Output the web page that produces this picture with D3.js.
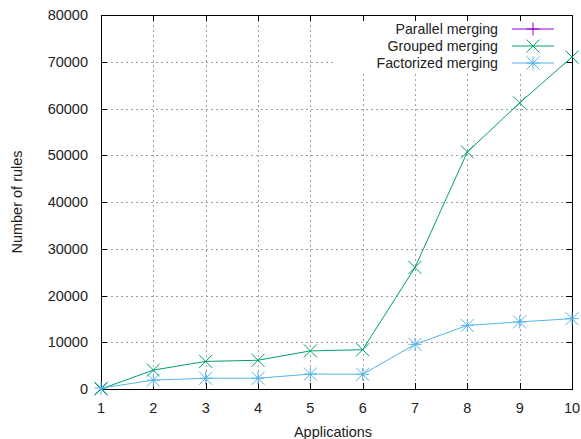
<!DOCTYPE html>
<html>
<head>
<meta charset="utf-8">
<script src="https://cdn.jsdelivr.net/npm/d3@7"></script>
<style>
  body { margin: 0; background: #fff; }
  svg { display: block; }
</style>
</head>
<body>
<script>
// data
const apps = [1, 2, 3, 4, 5, 6, 7, 8, 9, 10];
const parallel = []; // listed in the key only, no points visible
const grouped = [0, 4050, 5900, 6150, 8150, 8400, 26000, 50700, 61200, 71000];
const factorized = [200, 1900, 2300, 2300, 3200, 3150, 9550, 13600, 14350, 15050];
const yTicks = [0, 10000, 20000, 30000, 40000, 50000, 60000, 70000, 80000];
const seriesNames = ["Parallel merging", "Grouped merging", "Factorized merging"];

const width = 581, height = 439;
const m = { left: 101, right: 572, top: 15, bottom: 389 };

const x = d3.scaleLinear().domain([1, 10]).range([m.left, m.right]);
const y = d3.scaleLinear().domain([0, 80000]).range([m.bottom, m.top]);

const svg = d3.create("svg")
  .attr("width", width)
  .attr("height", height)
  .attr("font-family", "'Liberation Sans', Arial, sans-serif");

// key box area (gnuplot blanks the grid under it)
const key = { x0: 333, x1: m.right, y0: m.top, y1: 74 };

// grid
const grid = svg.append("g")
  .attr("stroke", "#a0a0a0")
  .attr("stroke-width", 1)
  .attr("stroke-dasharray", "2,3");

apps.slice(1, -1).forEach(a => {
  const px = Math.round(x(a)) + 0.5;
  const top = px > key.x0 ? key.y1 : m.top;
  grid.append("line").attr("x1", px).attr("x2", px).attr("y1", top).attr("y2", m.bottom);
});
yTicks.slice(1, -1).forEach(v => {
  const py = Math.round(y(v)) + 0.5;
  const right = py < key.y1 ? key.x0 : m.right;
  grid.append("line").attr("x1", m.left).attr("x2", right).attr("y1", py).attr("y2", py);
});

// axes (ticks inward, mirrored)
const axisG = svg.append("g").attr("stroke", "#000").attr("stroke-width", 1);
axisG.append("rect")
  .attr("x", m.left + 0.5).attr("y", m.top + 0.5)
  .attr("width", m.right - m.left).attr("height", m.bottom - m.top)
  .attr("fill", "none");

apps.forEach(a => {
  const px = Math.round(x(a)) + 0.5;
  axisG.append("line").attr("x1", px).attr("x2", px).attr("y1", m.bottom).attr("y2", m.bottom - 6);
  axisG.append("line").attr("x1", px).attr("x2", px).attr("y1", m.top).attr("y2", m.top + 6);
});
yTicks.forEach(v => {
  const py = Math.round(y(v)) + 0.5;
  axisG.append("line").attr("x1", m.left).attr("x2", m.left + 6).attr("y1", py).attr("y2", py);
  axisG.append("line").attr("x1", m.right).attr("x2", m.right - 6).attr("y1", py).attr("y2", py);
});

// tick labels
svg.append("g")
  .attr("font-size", 14.5).attr("fill", "#222").attr("text-anchor", "middle")
  .selectAll("text").data(apps).join("text")
  .attr("x", d => x(d)).attr("y", 413)
  .text(d => d);

svg.append("g")
  .attr("font-size", 14.5).attr("fill", "#222").attr("text-anchor", "end")
  .selectAll("text").data(yTicks).join("text")
  .attr("x", 88).attr("y", d => y(d) + 5)
  .text(d => d);

// axis titles
svg.append("text")
  .attr("x", 333).attr("y", 437)
  .attr("text-anchor", "middle").attr("font-size", 14.5).attr("fill", "#222")
  .text("Applications");

svg.append("text")
  .attr("transform", "translate(22,202) rotate(-90)")
  .attr("text-anchor", "middle").attr("font-size", 14.5).attr("fill", "#222")
  .text("Number of rules");

// markers
const plus = (g, cx, cy, s) => {
  g.append("path").attr("d", `M${cx - s},${cy}H${cx + s}M${cx},${cy - s}V${cy + s}`);
};
const cross = (g, cx, cy, s) => {
  g.append("path").attr("d", `M${cx - s},${cy - s}L${cx + s},${cy + s}M${cx - s},${cy + s}L${cx + s},${cy - s}`);
};
const star = (g, cx, cy, s) => {
  plus(g, cx, cy, s);
  cross(g, cx, cy, s);
};

const series = [
  { name: seriesNames[0], values: parallel, color: "#9400d3", mark: plus },
  { name: seriesNames[1], values: grouped, color: "#009e73", mark: cross },
  { name: seriesNames[2], values: factorized, color: "#56b4e9", mark: star }
];

const line = d3.line().x((d, i) => x(apps[i])).y(d => y(d));

series.forEach(s => {
  const g = svg.append("g").attr("stroke", s.color).attr("fill", "none").attr("stroke-width", 1);
  if (s.values.length) g.append("path").attr("d", line(s.values));
  s.values.forEach((v, i) => s.mark(g, x(apps[i]), y(v), 6.5));
});

// legend
const lg = svg.append("g").attr("font-size", 14.2).attr("fill", "#222");
series.forEach((s, i) => {
  const ly = 29 + i * 17;
  lg.append("text").attr("x", 498).attr("y", ly + 5).attr("text-anchor", "end").text(s.name);
  const g = lg.append("g").attr("stroke", s.color).attr("fill", "none").attr("stroke-width", 1);
  g.append("line").attr("x1", 512).attr("x2", 554).attr("y1", ly).attr("y2", ly);
  s.mark(g, 533, ly, 6.5);
});

d3.select("body").append(() => svg.node());
</script>
</body>
</html>
